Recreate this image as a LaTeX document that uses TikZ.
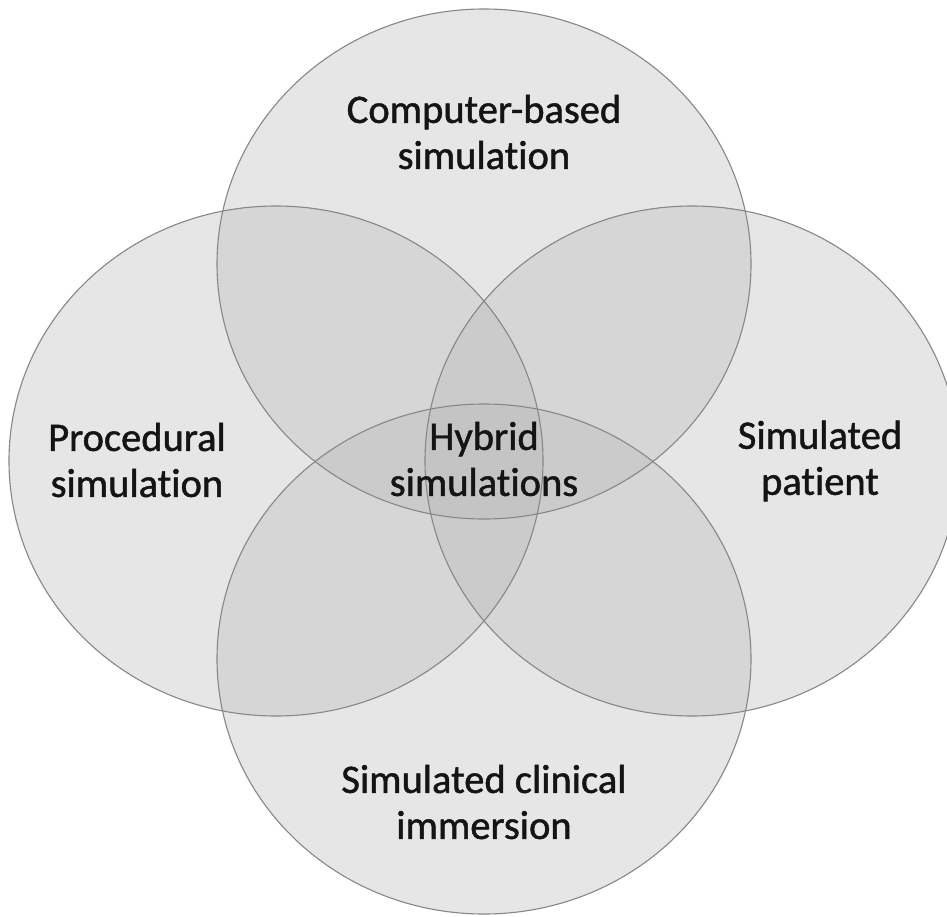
\documentclass[tikz,border=0pt]{standalone}
\usepackage{fontspec}
\setmainfont[Ligatures=NoCommon,FakeBold=1.2]{Carlito}
\usetikzlibrary{shapes.geometric}
\definecolor{vennfill}{RGB}{185,185,185}
\definecolor{vennline}{RGB}{135,135,135}
\tikzset{
  vennarea/.style={ellipse, inner sep=0pt, minimum width=534pt, minimum height=510pt,
                   fill=vennfill, fill opacity=0.35},
  vennedge/.style={ellipse, inner sep=0pt, minimum width=534pt, minimum height=510pt,
                   draw=vennline, line width=1.1pt},
  lbl/.style={align=center, font=\fontsize{40.5}{46}\selectfont, text=black!92}
}
\begin{document}
\begin{tikzpicture}[x=1pt,y=-1pt]
\useasboundingbox (0,0) rectangle (947,916);
\clip (0,0) rectangle (947,916);
\fill[white] (0,0) rectangle (947,916);
% fills
\node[vennarea] (top)    at (484,264) {};
\node[vennarea] (left)   at (276,461) {};
\node[vennarea] (right)  at (692,461) {};
\node[vennarea] (bottom) at (484,659) {};
% outlines
\node[vennedge] (topE)    at (top.center) {};
\node[vennedge] (leftE)   at (left.center) {};
\node[vennedge] (rightE)  at (right.center) {};
\node[vennedge] (bottomE) at (bottom.center) {};
% labels
\node[lbl] (tcomp) at (484,132) {Computer-based\\simulation};
\node[lbl] (tproc) at (137,460) {Procedural\\simulation};
\node[lbl] (tpat)  at (820,461) {Simulated\\patient};
\node[lbl] (thyb)  at (484,459) {Hybrid\\simulations};
\node[lbl] (timm)  at (484,802) {Simulated clinical\\immersion};
\end{tikzpicture}
\end{document}
